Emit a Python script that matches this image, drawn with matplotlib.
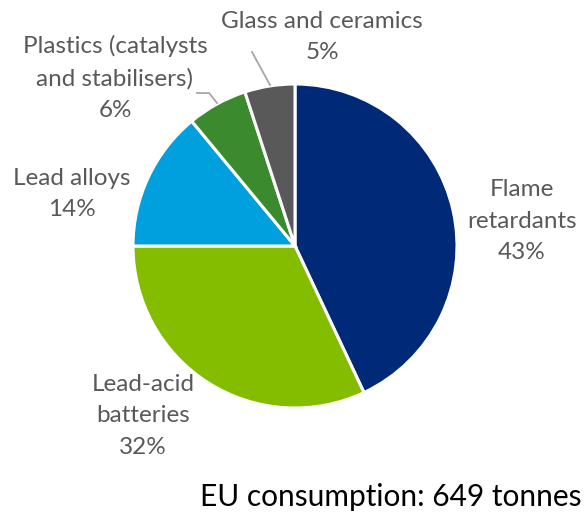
import matplotlib.pyplot as plt

# EU lead consumption by end use (%)
categories = ["Flame\nretardants", "Lead-acid\nbatteries", "Lead alloys",
              "Plastics (catalysts\nand stabilisers)", "Glass and ceramics"]
shares = [43, 32, 14, 6, 5]
colors = ["#002A77", "#84BD00", "#00A0DF", "#3C8A2E", "#595959"]
total_note = "EU consumption: 649 tonnes"

# label anchor points in pixel space (center of the text block)
label_pos = [(522, 221), (143, 416), (72, 194), (115, 78), (322, 37)]

plt.rcParams["font.family"] = ["Lato", "DejaVu Sans"]

fig = plt.figure(figsize=(5.84, 5.13), dpi=100)
ax = fig.add_axes([0, 0, 1, 1])

# y axis runs downward, so "clockwise from the top" is counterclock=True from 270
ax.pie(shares, colors=colors, startangle=270, counterclock=True,
       center=(295, 246), radius=162, frame=True,
       wedgeprops=dict(edgecolor="white", linewidth=2.2))
ax.set_xlim(0, 584)
ax.set_ylim(513, 0)
ax.set_aspect("equal")
ax.axis("off")

for (x, y), name, v in zip(label_pos, categories, shares):
    ax.text(x, y, f"{name}\n{v}%", ha="center", va="center",
            fontsize=17.5, color="#595959", linespacing=1.6)

# leader lines for the two small slices
ax.plot([252, 270], [52, 85], color="#A6A6A6", lw=1.3)
ax.plot([197, 209, 217], [93, 93, 103], color="#A6A6A6", lw=1.3)

ax.text(391, 497, total_note, ha="center", va="center",
        fontsize=21.5, color="black")

fig.savefig("out.png", dpi=100)
